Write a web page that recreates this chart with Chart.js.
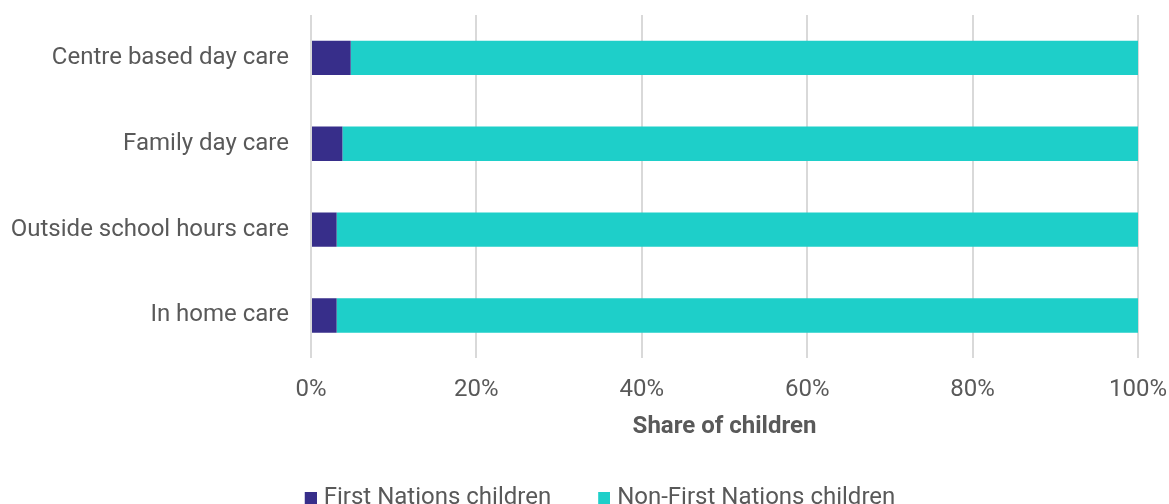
<!DOCTYPE html>
<html><head><meta charset="utf-8">
<script src="https://cdn.jsdelivr.net/npm/chart.js@4"></script>
<style>
html,body{margin:0;padding:0;background:#fff;overflow:hidden;}
#wrap{width:1169px;height:504px;overflow:hidden;position:relative;}
canvas{display:block;}
</style></head>
<body><div id="wrap"><canvas id="c" width="1169" height="520"></canvas></div>
<script>
const categories = ["Centre based day care", "Family day care", "Outside school hours care", "In home care"];
const firstNations = [4.8, 3.8, 3.1, 3.1];
const nonFirstNations = [95.2, 96.2, 96.9, 96.9];
const xTicks = [0, 20, 40, 60, 80, 100];
const seriesNames = ["First Nations children", "Non-First Nations children"];
const seriesColors = ['#372E8A', '#1ECFC9'];

const font = "Roboto, 'Open Sans', sans-serif";
const LEG_W = 25;
function swatch(color) {
  const c = document.createElement('canvas');
  c.width = LEG_W + 10; c.height = 12;
  const g = c.getContext('2d');
  g.fillStyle = color;
  g.fillRect(c.width - 12, 0, 12, 12);
  return c;
}
const swatches = seriesColors.map(swatch);
const shiftLegend = {
  id: 'shiftLegend',
  afterLayout(chart) { chart.legend.left += 22; chart.legend.right += 22; }
};
new Chart(document.getElementById('c'), {
  type: 'bar',
  data: {
    labels: categories,
    datasets: [
      {label: seriesNames[0], data: firstNations, backgroundColor: seriesColors[0], borderWidth: 0, barPercentage: 0.4, categoryPercentage: 1.0},
      {label: seriesNames[1], data: nonFirstNations, backgroundColor: seriesColors[1], borderWidth: 0, barPercentage: 0.4, categoryPercentage: 1.0}
    ]
  },
  options: {
    responsive: false,
    animation: false,
    indexAxis: 'y',
    layout: {padding: {left: 0, right: 31, top: 15, bottom: 0}},
    scales: {
      x: {
        stacked: true, min: 0, max: 100,
        afterBuildTicks: (s) => { s.ticks = xTicks.map(v => ({value: v})); },
        afterFit: (s) => { s.paddingLeft = 0; s.paddingRight = 0; },
        ticks: {callback: v => v + '%', color: '#595959', font: {family: font, size: 24}, padding: 17, maxRotation: 0},
        grid: {color: '#D9D9D9', lineWidth: 2, drawTicks: false},
        border: {display: false},
        title: {display: true, text: 'Share of children', color: '#595959', font: {family: font, size: 24, weight: 'bold'}, padding: {top: -9, bottom: 16}}
      },
      y: {
        stacked: true,
        afterFit: (s) => { s.width = 311; s.paddingTop = 0; s.paddingBottom = 0; },
        ticks: {color: '#595959', font: {family: font, size: 24}, padding: 22},
        grid: {display: false, drawTicks: false},
        border: {display: false}
      }
    },
    plugins: {
      legend: {
        position: 'bottom',
        labels: {
          color: '#595959', font: {family: font, size: 24}, padding: 29,
          usePointStyle: true, pointStyleWidth: LEG_W, boxHeight: 12,
          generateLabels: (chart) => {
            const items = Chart.defaults.plugins.legend.labels.generateLabels(chart);
            items.forEach((it, i) => { it.pointStyle = swatches[i]; });
            return items;
          }
        }
      },
      tooltip: {enabled: false}
    }
  },
  plugins: [shiftLegend]
});
</script></body></html>
